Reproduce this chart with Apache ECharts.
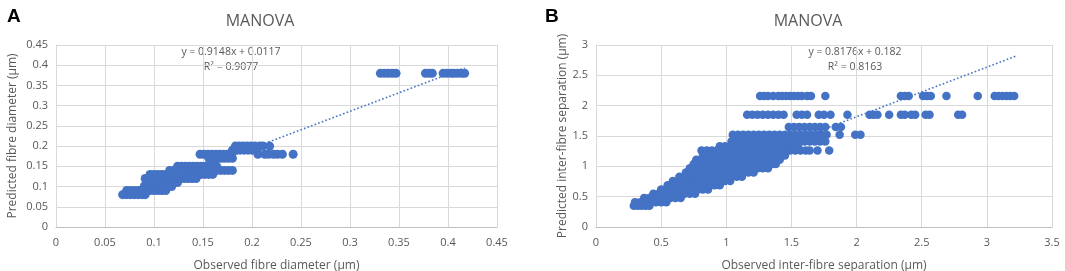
<!DOCTYPE html>
<html>
<head>
<meta charset="utf-8">
<title>MANOVA</title>
<script src="https://cdn.jsdelivr.net/npm/echarts@6/dist/echarts.min.js"></script>
<style>
    html, body { margin: 0; padding: 0; background: #fff; }
    #main { width: 1065px; height: 271px; }
</style>
</head>
<body>
<div id="main"></div>
<script>
/**
 * A: fibre diameter, predicted level (y) -> observed values (x)
 */
var levelsA = [0.08, 0.09, 0.10, 0.11, 0.12, 0.13, 0.14, 0.15, 0.17, 0.18, 0.19, 0.20, 0.38];
var obsA = [
    [0.068, 0.072, 0.076, 0.080, 0.084, 0.088, 0.091],
    [0.072, 0.076, 0.080, 0.084, 0.088, 0.092, 0.096, 0.100, 0.104, 0.108, 0.112],
    [0.090, 0.094, 0.098, 0.102, 0.106, 0.110, 0.114, 0.118],
    [0.092, 0.096, 0.100, 0.104, 0.108, 0.112, 0.116, 0.120, 0.124],
    [0.091, 0.095, 0.099, 0.103, 0.107, 0.111, 0.115, 0.119, 0.123, 0.127, 0.131, 0.135, 0.139, 0.143],
    [0.096, 0.100, 0.104, 0.108, 0.112, 0.116, 0.120, 0.124, 0.128, 0.132, 0.136, 0.140, 0.144, 0.148, 0.152, 0.156, 0.160],
    [0.116, 0.120, 0.124, 0.128, 0.132, 0.136, 0.140, 0.144, 0.148, 0.152, 0.156, 0.160, 0.164, 0.168, 0.172, 0.176, 0.180],
    [0.124, 0.128, 0.132, 0.136, 0.140, 0.144, 0.148, 0.152, 0.156, 0.160, 0.164],
    [0.156, 0.160, 0.164, 0.168, 0.172, 0.176, 0.180],
    [0.147, 0.151, 0.155, 0.159, 0.163, 0.167, 0.171, 0.175, 0.179, 0.206, 0.213, 0.217, 0.222, 0.226, 0.231, 0.242],
    [0.180, 0.184, 0.188, 0.192, 0.196, 0.200, 0.205],
    [0.183, 0.187, 0.191, 0.195, 0.199, 0.203, 0.208, 0.211, 0.218],
    [0.331, 0.335, 0.339, 0.343, 0.347, 0.377, 0.381, 0.384, 0.395, 0.399, 0.403, 0.406, 0.410, 0.414, 0.417]
];
var trendA = {slope: 0.9148, intercept: 0.0117, from: 0.068, to: 0.417};

/**
 * B: inter-fibre separation, predicted level (y) -> observed values (x)
 */
var levelsB = [0.35, 0.41, 0.48, 0.55, 0.62, 0.69, 0.76, 0.83, 0.90, 0.97, 1.04, 1.11, 1.18, 1.26, 1.33, 1.41, 1.52, 1.65, 1.85, 2.16];
var obsB = [
    [0.29, 0.32, 0.35, 0.38, 0.41],
    [0.30, 0.34, 0.38, 0.42, 0.46, 0.50, 0.54],
    [0.37, 0.41, 0.45, 0.49, 0.53, 0.57, 0.61, 0.65],
    [0.44, 0.48, 0.52, 0.56, 0.60, 0.64, 0.68, 0.72, 0.76],
    [0.50, 0.54, 0.58, 0.62, 0.66, 0.70, 0.74, 0.78, 0.82, 0.86],
    [0.55, 0.59, 0.63, 0.67, 0.71, 0.75, 0.79, 0.83, 0.87, 0.91, 0.95],
    [0.59, 0.63, 0.67, 0.71, 0.75, 0.79, 0.83, 0.87, 0.91, 0.95, 0.99, 1.03],
    [0.64, 0.68, 0.72, 0.76, 0.80, 0.84, 0.88, 0.92, 0.96, 1.00, 1.04, 1.08, 1.12],
    [0.69, 0.73, 0.77, 0.81, 0.85, 0.89, 0.93, 0.97, 1.01, 1.05, 1.09, 1.13, 1.17, 1.21],
    [0.72, 0.76, 0.80, 0.84, 0.88, 0.92, 0.96, 1.00, 1.04, 1.08, 1.12, 1.16, 1.20, 1.24, 1.28, 1.32],
    [0.75, 0.79, 0.83, 0.87, 0.91, 0.95, 0.99, 1.03, 1.07, 1.11, 1.15, 1.19, 1.23, 1.27, 1.31, 1.35, 1.38],
    [0.77, 0.81, 0.85, 0.89, 0.93, 0.97, 1.01, 1.05, 1.09, 1.13, 1.17, 1.21, 1.25, 1.29, 1.33, 1.37, 1.41],
    [0.82, 0.86, 0.90, 0.94, 0.98, 1.02, 1.06, 1.10, 1.14, 1.18, 1.22, 1.26, 1.30, 1.34, 1.38, 1.42, 1.45],
    [0.81, 0.85, 0.89, 0.93, 0.97, 1.01, 1.05, 1.09, 1.13, 1.17, 1.21, 1.25, 1.29, 1.33, 1.37, 1.41, 1.45, 1.49, 1.53, 1.57, 1.61, 1.64, 1.70, 1.79],
    [0.95, 0.99, 1.03, 1.07, 1.11, 1.15, 1.19, 1.23, 1.27, 1.31, 1.35, 1.39, 1.43, 1.47, 1.51, 1.55],
    [1.04, 1.08, 1.12, 1.16, 1.20, 1.24, 1.28, 1.32, 1.36, 1.40, 1.44, 1.48, 1.52, 1.56, 1.60, 1.64, 1.68, 1.72, 1.76],
    [1.05, 1.09, 1.13, 1.17, 1.21, 1.25, 1.29, 1.33, 1.37, 1.41, 1.45, 1.49, 1.53, 1.57, 1.61, 1.65, 1.69, 1.73, 1.77, 1.87, 1.99, 2.03],
    [1.48, 1.52, 1.56, 1.60, 1.64, 1.68, 1.72, 1.76, 1.84, 1.88],
    [1.16, 1.20, 1.24, 1.28, 1.32, 1.36, 1.40, 1.44, 1.54, 1.58, 1.62, 1.71, 1.75, 1.80, 1.93, 2.10, 2.13, 2.16, 2.25, 2.34, 2.37, 2.42, 2.45, 2.53, 2.56, 2.78, 2.81],
    [1.26, 1.29, 1.32, 1.36, 1.40, 1.43, 1.46, 1.49, 1.52, 1.55, 1.58, 1.62, 1.65, 1.76, 2.34, 2.37, 2.40, 2.51, 2.54, 2.57, 2.69, 2.93, 3.06, 3.09, 3.12, 3.15, 3.18, 3.21]
];
var trendB = {slope: 0.8176, intercept: 0.182, from: 0.29, to: 3.22};

var FONT = '"Open Sans", "Noto Sans", sans-serif';
var TEXT_GREY = '#595959';
var GRID_GREY = '#d9d9d9';
var BLUE = '#4472c4';

/**
 * 把水平条带展开为散点
 */
function toPoints(levels, obs) {
    var points = [];
    levels.forEach(function (y, i) {
        obs[i].forEach(function (x) {
            points.push([x, y]);
        });
    });
    return points;
}

function trendPoints(t) {
    return [
        [t.from, t.slope * t.from + t.intercept],
        [t.to, t.slope * t.to + t.intercept]
    ];
}

function valueAxis(gridIndex, max, interval, name, nameGap, isX) {
    return {
        type: 'value',
        gridIndex: gridIndex,
        min: 0,
        max: max,
        interval: interval,
        name: name,
        nameLocation: 'middle',
        nameGap: nameGap,
        nameTextStyle: {color: TEXT_GREY, fontFamily: FONT, fontSize: 12},
        axisLine: {show: true, lineStyle: {color: isX ? '#bfbfbf' : GRID_GREY}},
        axisTick: {show: false},
        axisLabel: {color: TEXT_GREY, fontFamily: FONT, fontSize: 11, margin: isX ? 10 : 8},
        splitLine: {show: true, lineStyle: {color: GRID_GREY, width: 1}}
    };
}

function equationText(cx, eq, r2) {
    return [
        {type: 'text', x: cx, y: 52, silent: true,
            style: {text: eq, textAlign: 'center', textVerticalAlign: 'middle', fill: TEXT_GREY, font: '10.5px ' + FONT}},
        {type: 'text', x: cx, y: 67, silent: true,
            style: {text: r2, textAlign: 'center', textVerticalAlign: 'middle', fill: TEXT_GREY, font: '10.5px ' + FONT}}
    ];
}

function manovaChart() {
    var myChart = echarts.init(document.getElementById('main'), null, {renderer: 'canvas'});
    var option = {
        backgroundColor: '#ffffff',
        animation: false,
        title: [
            {text: 'MANOVA', left: 255, top: 8, textAlign: 'center',
                textStyle: {color: TEXT_GREY, fontFamily: FONT, fontSize: 16, fontWeight: 'normal'}},
            {text: 'MANOVA', left: 803, top: 8, textAlign: 'center',
                textStyle: {color: TEXT_GREY, fontFamily: FONT, fontSize: 16, fontWeight: 'normal'}},
            {text: 'A', left: 2, top: 2,
                textStyle: {color: '#000', fontFamily: '"Liberation Sans", Arial, sans-serif', fontSize: 19, fontWeight: 'bold'}},
            {text: 'B', left: 540, top: 2,
                textStyle: {color: '#000', fontFamily: '"Liberation Sans", Arial, sans-serif', fontSize: 19, fontWeight: 'bold'}}
        ],
        grid: [
            {left: 56, top: 45, width: 441, height: 182, outerBoundsMode: 'none', containLabel: false},
            {left: 596, top: 45, width: 456, height: 182, outerBoundsMode: 'none', containLabel: false}
        ],
        xAxis: [
            valueAxis(0, 0.45, 0.05, 'Observed fibre diameter (\u00b5m)', 33, true),
            valueAxis(1, 3.5, 0.5, 'Observed inter-fibre separation (\u00b5m)', 33, true)
        ],
        yAxis: [
            valueAxis(0, 0.45, 0.05, 'Predicted fibre diameter (\u00b5m)', 37, false),
            valueAxis(1, 3, 0.5, 'Predicted inter-fibre separation (\u00b5m)', 27, false)
        ],
        graphic: equationText(231, 'y = 0.9148x + 0.0117', 'R\u00b2 = 0.9077')
            .concat(equationText(855, 'y = 0.8176x + 0.182', 'R\u00b2 = 0.8163')),
        series: [
            {
                type: 'scatter', xAxisIndex: 0, yAxisIndex: 0,
                symbolSize: 9,
                itemStyle: {color: BLUE, opacity: 1},
                data: toPoints(levelsA, obsA)
            },
            {
                type: 'line', xAxisIndex: 0, yAxisIndex: 0,
                symbol: 'none', silent: true,
                lineStyle: {color: BLUE, width: 1.6, type: [1.6, 2.2]},
                data: trendPoints(trendA)
            },
            {
                type: 'scatter', xAxisIndex: 1, yAxisIndex: 1,
                symbolSize: 8.5,
                itemStyle: {color: BLUE, opacity: 1},
                data: toPoints(levelsB, obsB)
            },
            {
                type: 'line', xAxisIndex: 1, yAxisIndex: 1,
                symbol: 'none', silent: true,
                lineStyle: {color: BLUE, width: 1.6, type: [1.6, 2.2]},
                data: trendPoints(trendB)
            }
        ]
    };
    if (option && typeof option === "object") {
        myChart.setOption(option, true);
    }
}

manovaChart();
</script>
</body>
</html>
